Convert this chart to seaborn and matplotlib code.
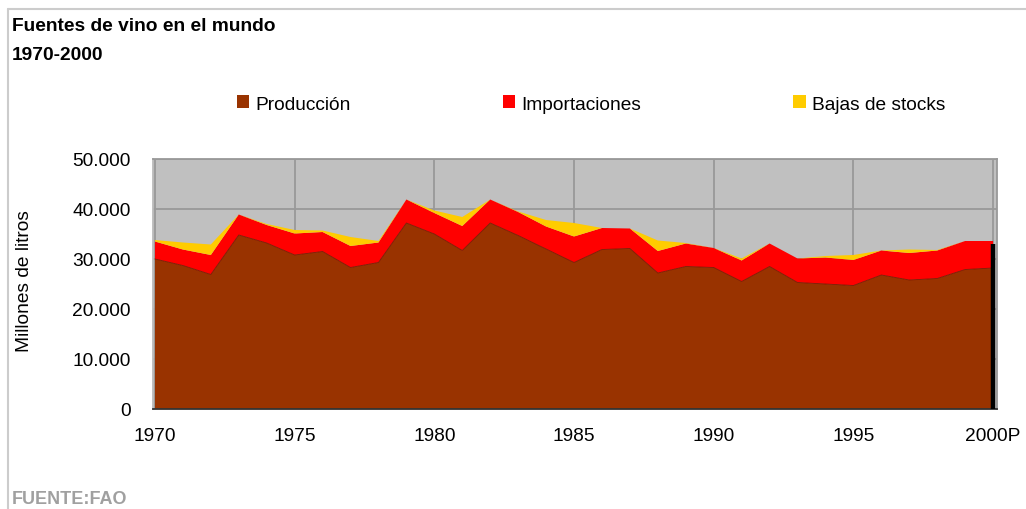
import numpy as np
import pandas as pd
import matplotlib
matplotlib.use("Agg")
import matplotlib.pyplot as plt
import seaborn as sns
from matplotlib.patches import Patch
from matplotlib.lines import Line2D
from matplotlib.ticker import FuncFormatter

# Datos (millones de litros)
anios = list(range(1970, 2001))
produccion = [30000, 28700, 26900, 34800, 33200, 30800, 31500, 28300, 29300, 37200,
              35000, 31700, 37200, 34700, 32000, 29300, 31900, 32100, 27200, 28500,
              28300, 25500, 28500, 25300, 25000, 24700, 26800, 25800, 26100, 27900,
              28200]
importaciones = [3500, 3200, 3900, 4100, 3600, 4300, 3900, 4300, 4000, 4700,
                 4200, 4900, 4700, 4700, 4500, 5200, 4300, 4000, 4400, 4600,
                 3900, 4200, 4600, 4800, 5300, 5100, 4900, 5400, 5600, 5700,
                 5400]
bajas_stocks = [300, 1400, 2100, 0, 200, 700, 300, 1800, 300, 0,
                500, 1800, 0, 100, 1300, 2700, 0, 0, 2100, 100,
                0, 400, 0, 0, 300, 1000, 0, 700, 100, 0,
                0]
series = ["Producción", "Importaciones", "Bajas de stocks"]
colores = ["#993300", "#ff0000", "#ffcc00"]
xtick_labels = ["1970", "1975", "1980", "1985", "1990", "1995", "2000P"]

df = pd.DataFrame({"anio": anios, "Producción": produccion,
                   "Importaciones": importaciones, "Bajas de stocks": bajas_stocks})

sns.set_style("white")
plt.rcParams["font.family"] = ["Liberation Sans", "DejaVu Sans"]
plt.rcParams["text.color"] = "black"

fs = 13.8

fig = plt.figure(figsize=(10.26, 5.10), dpi=100)
ax = fig.add_axes([153 / 1026, 1 - 410 / 510, (997 - 153) / 1026, 250 / 510])
ax.set_facecolor("#c0c0c0")

ax.stackplot(df["anio"], df["Producción"], df["Importaciones"], df["Bajas de stocks"],
             colors=colores, linewidth=0, edgecolor="none", zorder=2)
# borde oscuro de la produccion
sns.lineplot(x="anio", y="Producción", data=df, ax=ax, color="#7a1a00",
             linewidth=0.6, zorder=3)
total = df[series].sum(axis=1)
ax.vlines(df["anio"].iloc[-1], 0, total.iloc[-1] * 0.98, color="black",
          linewidth=3.2, zorder=4)

ax.set_xlim(1969.93, 2000.14)
ax.set_ylim(0, 50000)
ax.set_xticks(range(1970, 2001, 5))
ax.set_xticklabels(xtick_labels)
ax.set_yticks(range(0, 50001, 10000))
ax.yaxis.set_major_formatter(FuncFormatter(lambda v, p: f"{v:,.0f}".replace(",", ".")))
ax.grid(True, color="#999999", linewidth=1.3, zorder=1)
ax.set_axisbelow(True)
ax.tick_params(length=0, labelsize=fs, colors="black")
ax.tick_params(axis="y", pad=16)
ax.tick_params(axis="x", pad=13)
ax.set_xlabel("")
ax.set_ylabel("")
for lado in ["top", "right"]:
    ax.spines[lado].set_color("#999999")
    ax.spines[lado].set_linewidth(1.3)
ax.spines["left"].set_color("#bbbbbb")
ax.spines["left"].set_linewidth(1.3)
ax.spines["bottom"].set_color("#333333")
ax.spines["bottom"].set_linewidth(1.3)

fig.text(25 / 1026, 1 - 281 / 510, "Millones de litros", rotation=90,
         ha="center", va="center", fontsize=fs)

fig.text(12 / 1026, 1 - 31 / 510, "Fuentes de vino en el mundo", fontsize=fs,
         fontweight="bold", ha="left", va="baseline")
fig.text(12 / 1026, 1 - 60 / 510, "1970-2000", fontsize=fs,
         fontweight="bold", ha="left", va="baseline")
fig.text(12 / 1026, 1 - 504 / 510, "FUENTE:FAO", fontsize=13, fontweight="bold",
         color="#a0a0a0", ha="left", va="baseline")

handles = [Patch(facecolor=c, edgecolor="none") for c in colores]
fig.legend(handles, series, loc="center", bbox_to_anchor=(591 / 1026, 1 - 105 / 510),
           ncol=3, frameon=False, fontsize=fs, handlelength=0.65, handleheight=0.65,
           handletextpad=0.3, columnspacing=7.95)

# marco exterior del grafico
fig.add_artist(Line2D([8 / 1026, 1], [1 - 10 / 510, 1 - 10 / 510],
                      transform=fig.transFigure, color="#cccccc", linewidth=1.5))
fig.add_artist(Line2D([8 / 1026, 8 / 1026], [0, 1 - 10 / 510],
                      transform=fig.transFigure, color="#cccccc", linewidth=1.5))

fig.savefig("out.png", dpi=100)
